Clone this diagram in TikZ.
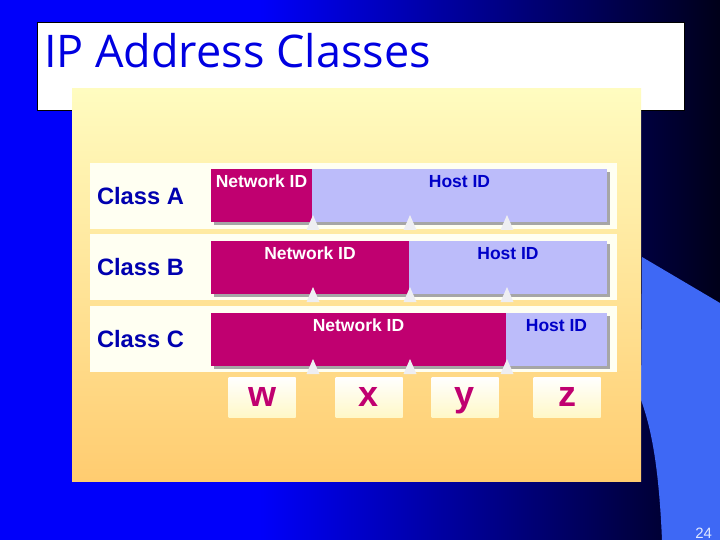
\documentclass[tikz,border=0pt]{standalone}
\usepackage{fontspec}
\setmainfont{Liberation Sans}
\newfontfamily\titlefont{Open Sans}
\usetikzlibrary{positioning,shadows}
\definecolor{bgblue}{RGB}{0,0,250}
\definecolor{bgdark}{RGB}{0,0,25}
\definecolor{wedgecol}{RGB}{62,104,245}
\definecolor{titlecol}{RGB}{0,0,225}
\definecolor{paneltop}{RGB}{255,252,192}
\definecolor{panelbot}{RGB}{255,204,112}
\definecolor{rowcol}{RGB}{255,255,242}
\definecolor{netcol}{RGB}{192,0,112}
\definecolor{hostcol}{RGB}{188,188,250}
\definecolor{hosttext}{RGB}{0,0,200}
\definecolor{classcol}{RGB}{0,0,175}
\definecolor{letterbot}{RGB}{255,248,200}
\definecolor{tickcol}{RGB}{238,238,242}
\definecolor{pagecol}{RGB}{225,232,255}
\begin{document}
\begin{tikzpicture}[x=1pt, y=-1pt,
    every node/.style={inner sep=0pt, outer sep=0pt},
    rowbox/.style={fill=rowcol, minimum width=527pt, minimum height=66pt, anchor=north west},
    netbar/.style={fill=netcol, minimum height=53pt, anchor=north west,
      drop shadow={shadow xshift=3pt, shadow yshift=-3pt, fill=black!35, opacity=1}},
    hostbar/.style={fill=hostcol, minimum height=53pt, anchor=north west,
      drop shadow={shadow xshift=3pt, shadow yshift=-3pt, fill=black!35, opacity=1}},
    idtext/.style={font=\fontsize{17.5}{20}\selectfont\bfseries},
    classtext/.style={font=\fontsize{23.7}{28}\selectfont\bfseries, text=classcol, anchor=west},
    letterbox/.style={top color=white, bottom color=letterbot, minimum width=67pt,
      minimum height=40pt, text height=26pt, text depth=8pt,
      font=\fontsize{36}{40}\selectfont\bfseries, text=netcol}]
    \useasboundingbox (0,0) rectangle (720,540);
    \fill[bgblue] (0,0) rectangle (720,540);
    \shade[left color=bgblue, right color=bgdark] (260,0) rectangle (720,540);
    \fill[wedgecol] (642,257) -- (720,303) -- (720,540) -- (662,540)
        .. controls (659,470) and (652,430) .. (641,400) -- cycle;

    \draw[fill=white, line width=0.8pt] (37,22) rectangle (684,110);
    \node[anchor=base west, font=\titlefont\fontsize{45}{50}\selectfont, text=titlecol] (title) at (44,68) {IP Address Classes};

    \shade[top color=paneltop, bottom color=panelbot] (72,89) rectangle (641,481);

    \node[rowbox] (rowA) at (90,163) {};
    \node[rowbox] (rowB) at (90,234) {};
    \node[rowbox] (rowC) at (90,306) {};
    \node[classtext] (classA) at ([xshift=7pt]rowA.west) {Class A};
    \node[classtext] (classB) at ([xshift=7pt]rowB.west) {Class B};
    \node[classtext] (classC) at ([xshift=7pt]rowC.west) {Class C};

    \node[netbar, minimum width=101pt] (netA) at (211,169) {};
    \node[hostbar, minimum width=295pt] (hostA) at (netA.north east) {};
    \node[netbar, minimum width=198pt] (netB) at (211,241) {};
    \node[hostbar, minimum width=198pt] (hostB) at (netB.north east) {};
    \node[netbar, minimum width=295pt] (netC) at (211,313) {};
    \node[hostbar, minimum width=101pt] (hostC) at (netC.north east) {};

    \node[idtext, text=white, below=6pt of netA.north] (netlabelA) {Network ID};
    \node[idtext, text=hosttext, below=6pt of hostA.north] (hostlabelA) {Host ID};
    \node[idtext, text=white, below=6pt of netB.north] (netlabelB) {Network ID};
    \node[idtext, text=hosttext, below=6pt of hostB.north] (hostlabelB) {Host ID};
    \node[idtext, text=white, below=6pt of netC.north] (netlabelC) {Network ID};
    \node[idtext, text=hosttext, below=6pt of hostC.north] (hostlabelC) {Host ID};

    \foreach \r in {222,294,366}
      \foreach \x in {313,410,507}
        \fill[tickcol] (\x-6.5,\r+8) -- (\x,\r-7) -- (\x+6.5,\r+8) -- cycle;

    \node[letterbox] (w) at (262,397) {w};
    \node[letterbox] (x) at (369,397) {x};
    \node[letterbox] (y) at (465,397) {y};
    \node[letterbox] (z) at (567,397) {z};

    \node[anchor=base east, font=\fontsize{15}{16}\selectfont, text=pagecol] (page) at (712,538) {24};
\end{tikzpicture}
\end{document}
